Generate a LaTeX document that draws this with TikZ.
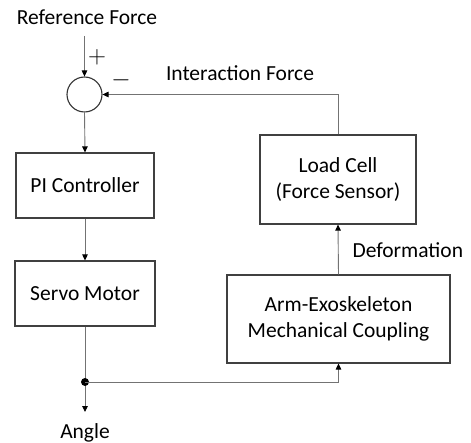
\documentclass[tikz,border=0pt]{standalone}
\usepackage{fontspec}
\setmainfont{Carlito}
\usetikzlibrary{arrows.meta}

\begin{document}
\begin{tikzpicture}[x=1pt, y=-1pt,
    every node/.style={font=\fontsize{21.5}{26}\selectfont},
    block/.style={draw=black!75, line width=1.1pt, align=center, inner sep=0pt},
    wire/.style={draw=black!55, line width=0.9pt},
    arr/.style={wire, -{Triangle[length=6pt, width=5.5pt, color=black, fill=black]}},
    sign/.style={font=\fontsize{24}{26}\selectfont}]
    \useasboundingbox (0,0) rectangle (471,443);
    % summing junction
    \node[draw=black!80, line width=1.1pt, circle, minimum size=35pt, inner sep=0pt] (sum) at (84.5,94.5) {};
    \node (reftext) at (87,17) {Reference Force};
    \coordinate (refin) at (84.5,36);
    \node[sign] (plus) at (97,57) {$+$};
    \node[sign] (minus) at (121,80) {$-$};
    \draw[arr] (refin) -- (sum.north);
    % forward path
    \node[block, minimum width=138pt, minimum height=65pt] (pi) at (85,185.5) {PI Controller};
    \node[block, minimum width=140pt, minimum height=65pt] (servo) at (85,293.5) {Servo Motor};
    \draw[arr] (sum.south) -- (pi.north);
    \draw[arr] (pi.south) -- (servo.north);
    % output
    \coordinate (jn) at (85,382);
    \coordinate (angleend) at (85,412);
    \node (angletext) at (85,433) {Angle};
    \draw[wire] (servo.south) -- (jn);
    \draw[arr] (jn) -- (angleend);
    \fill (jn) circle (4pt);
    % feedback path
    \node[block, minimum width=223pt, minimum height=88pt] (coupling) at (338.5,319) {Arm-Exoskeleton\\Mechanical Coupling};
    \node[block, minimum width=156pt, minimum height=89pt] (cell) at (338,179.5) {Load Cell\\(Force Sensor)};
    \draw[arr] (jn) -| (coupling.south);
    \draw[arr] (coupling.north) -- (cell.south);
    \node[anchor=west] (deform) at (349,250) {Deformation};
    \draw[arr] (cell.north) |- (sum.east);
    \node (interact) at (240,73) {Interaction Force};
\end{tikzpicture}
\end{document}
